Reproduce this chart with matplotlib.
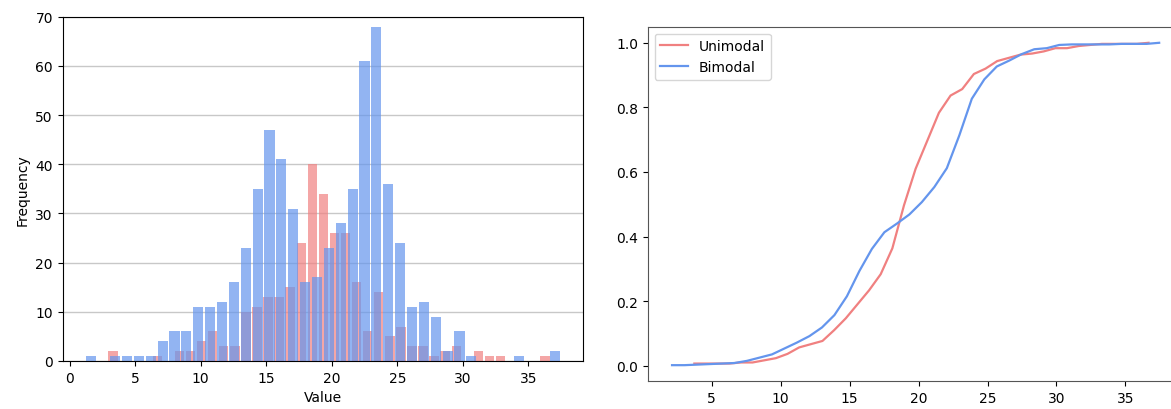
import numpy as np
import matplotlib
matplotlib.use('Agg')
import matplotlib.pyplot as plt

unimodal_counts = [2, 0, 0, 0, 1, 0, 2, 2, 4, 6, 3, 3, 10, 11, 13, 13, 15, 24, 40, 34,
                   26, 26, 16, 6, 14, 5, 7, 3, 3, 1, 2, 3, 0, 2, 1, 1, 0, 0, 0, 1]
bimodal_counts = [1, 0, 1, 1, 1, 1, 4, 6, 6, 11, 11, 12, 16, 23, 35, 47, 41, 31, 16, 17,
                  23, 28, 35, 61, 68, 36, 24, 11, 12, 9, 2, 6, 1, 0, 0, 0, 1, 0, 0, 2]

# Rango de los datos (min, max)
unimodal_range = (2.89, 36.68)
bimodal_range = (1.21, 37.45)

uni_edges = np.linspace(unimodal_range[0], unimodal_range[1], len(unimodal_counts) + 1)
bi_edges = np.linspace(bimodal_range[0], bimodal_range[1], len(bimodal_counts) + 1)
uni_centers = (uni_edges[:-1] + uni_edges[1:]) / 2
bi_centers = (bi_edges[:-1] + bi_edges[1:]) / 2

fig = plt.figure(figsize=(11.71, 4.1), dpi=100)
ax1 = fig.add_axes([0.0535, 0.1171, 0.4446, 0.8398])
ax2 = fig.add_axes([0.5531, 0.0676, 0.4576, 0.8649])

# Histograma
ax1.grid(axis='y', color='#c8c8c8', linewidth=1)
ax1.set_axisbelow(True)
ax1.hist(uni_centers, bins=uni_edges, weights=unimodal_counts, color='lightcoral',
         alpha=0.7, rwidth=0.85, label='Unimodal')
ax1.hist(bi_centers, bins=bi_edges, weights=bimodal_counts, color='cornflowerblue',
         alpha=0.7, rwidth=0.85, label='Bimodal')
ax1.set_ylim(0, 70)
ax1.set_xlabel('Value')
ax1.set_ylabel('Frequency')

# Distribucion acumulada
uni_cdf = np.cumsum(unimodal_counts) / np.sum(unimodal_counts)
bi_cdf = np.cumsum(bimodal_counts) / np.sum(bimodal_counts)
ax2.plot(uni_edges[1:], uni_cdf, color='lightcoral', linewidth=1.6, label='Unimodal')
ax2.plot(bi_edges[1:], bi_cdf, color='cornflowerblue', linewidth=1.6, label='Bimodal')
ax2.legend(loc='upper left')
for s in ax2.spines.values():
    s.set_color('#555555')

fig.savefig('out.png', dpi=100)
